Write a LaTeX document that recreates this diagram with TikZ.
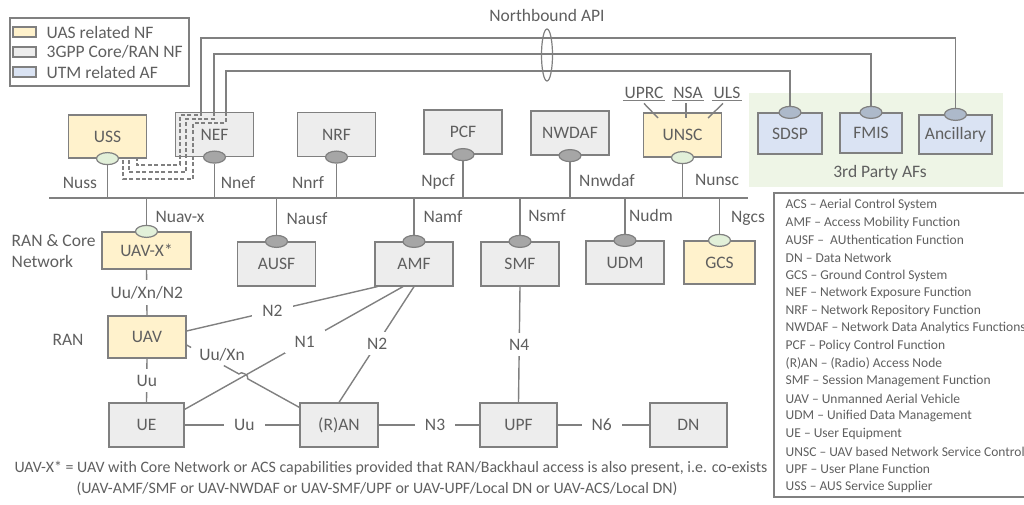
\documentclass[tikz,border=0pt]{standalone}
\usepackage{fontspec}
\setmainfont{Carlito}
\usetikzlibrary{calc,intersections,shapes.geometric}

\definecolor{txtgray}{HTML}{5F5F5F}
\definecolor{linegray}{HTML}{808080}
\definecolor{uasfill}{HTML}{FFF2CC}
\definecolor{corefill}{HTML}{EDEDED}
\definecolor{utmfill}{HTML}{DAE3F3}
\definecolor{afback}{HTML}{EEF5E6}
\definecolor{greenif}{HTML}{E2F0D9}
\definecolor{grayif}{HTML}{A6A6A6}
\definecolor{blueif}{HTML}{ADB9CA}

\newcommand{\lblfont}{\fontsize{8.75}{10.5}\selectfont}
\newcommand{\keyfont}{\fontsize{6.75}{8.8}\selectfont}
\newcommand{\notefont}{\fontsize{7.95}{9.5}\selectfont}

\begin{document}
\begin{tikzpicture}[x=0.5pt,y=-0.5pt,line width=0.7pt,color=linegray,text=txtgray,font=\lblfont,
    nf/.style={draw=linegray,line width=0.6pt,minimum width=39pt,minimum height=22pt,inner sep=0pt},
    uas/.style={nf,fill=uasfill},
    core/.style={nf,fill=corefill},
    utm/.style={nf,fill=utmfill},
    ifc/.style={ellipse,draw=linegray,line width=0.6pt,minimum width=11pt,minimum height=6pt,inner sep=0pt},
    gap/.style={fill=white,inner xsep=5pt,inner ysep=3pt},
    nefdash/.style={dashed,dash pattern=on 2pt off 1.2pt,line width=0.6pt},
    keyline/.style={anchor=west,inner sep=0pt,font=\keyfont}]

    \useasboundingbox (0,0) rectangle (1024,504);

    % Colour legend
    \draw[line width=0.6pt] (10,18) rectangle (189,86);
    \node[draw,fill=uasfill,minimum width=11.5pt,minimum height=5pt,inner sep=0pt] (keyUas) at (24.5,32) {};
    \node[draw,fill=corefill,minimum width=11.5pt,minimum height=5pt,inner sep=0pt] (keyCore) at (24.5,52) {};
    \node[draw,fill=utmfill,minimum width=11.5pt,minimum height=5pt,inner sep=0pt] (keyUtm) at (24.5,72) {};
    \node[anchor=west,inner sep=0pt] (keyUasT) at (46,32) {UAS related NF};
    \node[anchor=west,inner sep=0pt] (keyCoreT) at (46,52) {3GPP Core/RAN NF};
    \node[anchor=west,inner sep=0pt] (keyUtmT) at (46,72) {UTM related AF};

    % 3rd party AFs
    \fill[afback] (749,93) rectangle (1003,187);
    \node[utm,minimum width=32pt,minimum height=20.5pt] (SDSP) at (790,133.5) {SDSP};
    \node[utm,minimum width=31pt,minimum height=20pt] (FMIS) at (871,133) {FMIS};
    \node[utm,minimum width=36.5pt,minimum height=19.5pt] (Anc) at (955.5,134.5) {Ancillary};
    \node[ifc,fill=blueif] (sdspIf) at (SDSP.north) {};
    \node[ifc,fill=blueif] (fmisIf) at (FMIS.north) {};
    \node[ifc,fill=blueif] (ancIf) at (Anc.north) {};
    \node (afLbl) at (880,173) {3rd Party AFs};

    % Service based NFs (top row)
    \node[uas,minimum height=21.5pt] (USS) at (107.5,136.5) {USS};
    \node[core] (NEF) at (214.5,134.5) {NEF};
    \node[core] (NRF) at (336.5,134.5) {NRF};
    \node[core] (PCF) at (463,132) {PCF};
    \node[core] (NWDAF) at (570,133) {NWDAF};
    \node[uas] (UNSC) at (682.5,135) {UNSC};

    \node[ifc,fill=greenif] (ussIf) at (USS.south) {};
    \node[ifc,fill=grayif] (nefIf) at (NEF.south) {};
    \node[ifc,fill=grayif] (nrfIf) at (NRF.south) {};
    \node[ifc,fill=grayif] (pcfIf) at (PCF.south) {};
    \node[ifc,fill=grayif] (nwdafIf) at (NWDAF.south) {};
    \node[ifc,fill=greenif] (unscIf) at (UNSC.south) {};

    % UNSC parts
    \node[inner sep=0.5pt] (uprc) at (644,93) {UPRC};
    \node[inner sep=0.5pt] (nsa) at (688,93) {NSA};
    \node[inner sep=0.5pt] (uls) at (727,93) {ULS};
    \draw (uprc.south west) -- (uprc.south east);
    \draw (nsa.south west) -- (nsa.south east);
    \draw (uls.south west) -- (uls.south east);
    \draw ($(uprc.south)+(0,3)$) -- (658,118);
    \draw ($(nsa.south)+(-2,3)$) -- (686,118);
    \draw ($(uls.south)+(-4,3)$) -- (708,118);

    % Northbound API
    \coordinate (apiA) at (201,0 |- NEF.north);
    \coordinate (apiB) at (214,0 |- NEF.north);
    \coordinate (apiC) at (226,0 |- NEF.north);
    \draw (apiA) |- (ancIf.north |- 0,38) -- (ancIf.north);
    \draw (apiB) |- (fmisIf.north |- 0,54) -- (fmisIf.north);
    \draw (apiC) |- (sdspIf.north |- 0,71) -- (sdspIf.north);
    \draw[line width=0.6pt] (547,55) ellipse [x radius=5.5,y radius=26];
    \node (nbLbl) at (547,15) {Northbound API};

    % NEF to USS (dashed)
    \draw[nefdash] (apiA) |- (180,115) |- (137,165) -- (137,0 |- USS.south);
    \draw[nefdash] (apiB) |- (186,119) |- (129,172) -- (129,0 |- USS.south);
    \draw[nefdash] (apiC) |- (193,123) |- (123,179) -- (123,0 |- USS.south);

    % Service bus
    \coordinate (busW) at (49,198);
    \coordinate (busE) at (748,198);
    \draw (busW) -- (busE);
    \draw (ussIf) -- (ussIf |- busW);
    \draw (nefIf) -- (nefIf |- busW);
    \draw (nrfIf) -- (nrfIf |- busW);
    \draw (pcfIf) -- (pcfIf |- busW);
    \draw (nwdafIf) -- (nwdafIf |- busW);
    \draw (unscIf) -- (unscIf |- busW);

    \node (lNuss) at (80,183) {Nuss};
    \node (lNnef) at (238,183) {Nnef};
    \node (lNnrf) at (308,182) {Nnrf};
    \node (lNpcf) at (438,182) {Npcf};
    \node (lNnwdaf) at (607,180) {Nnwdaf};
    \node (lNunsc) at (717,180) {Nunsc};

    % Service based NFs (lower row)
    \node[uas,minimum width=44.5pt,minimum height=18.5pt] (UAVX) at (146.5,250.5) {UAV-X*};
    \node[core] (AUSF) at (276.5,264) {AUSF};
    \node[core] (AMF) at (414,264) {AMF};
    \node[core] (SMF) at (520,264) {SMF};
    \node[core,minimum height=21.5pt] (UDM) at (625,262.5) {UDM};
    \node[uas,minimum width=35.5pt,minimum height=21.5pt] (GCS) at (719.5,262.5) {GCS};

    \node[ifc,fill=greenif] (uavxIf) at (UAVX.north) {};
    \node[ifc,fill=grayif] (ausfIf) at (AUSF.north) {};
    \node[ifc,fill=grayif] (amfIf) at (AMF.north) {};
    \node[ifc,fill=grayif] (smfIf) at (SMF.north) {};
    \node[ifc,fill=grayif] (udmIf) at (UDM.north) {};
    \node[ifc,fill=greenif] (gcsIf) at (GCS.north) {};

    \draw (uavxIf) -- (uavxIf |- busW);
    \draw (ausfIf) -- (ausfIf |- busW);
    \draw (amfIf) -- (amfIf |- busW);
    \draw (smfIf) -- (smfIf |- busW);
    \draw (udmIf) -- (udmIf |- busW);
    \draw (gcsIf) -- (gcsIf |- busW);

    \node (lNuavx) at (180,217) {Nuav-x};
    \node (lNausf) at (307,219) {Nausf};
    \node (lNamf) at (443,217) {Namf};
    \node (lNsmf) at (547,216) {Nsmf};
    \node (lNudm) at (651,215) {Nudm};
    \node (lNgcs) at (748,218) {Ngcs};

    \node[anchor=west,align=left,inner sep=0pt] (lCore) at (11,251) {RAN \& Core\\Network};

    % RAN and user plane
    \node[uas,minimum height=21pt] (UAV) at (147,337) {UAV};
    \node[core,minimum width=37.5pt] (UE) at (146.5,425) {UE};
    \node[core] (RAN) at (339,425) {(R)AN};
    \node[core,minimum width=38.5pt] (UPF) at (518.5,425) {UPF};
    \node[core,minimum width=38.5pt] (DN) at (688.5,425) {DN};
    \node (lRAN) at (68,340) {RAN};

    \draw (UAVX.south) -- node[gap] (lUuXnNtwo) {Uu/Xn/N2} (UAV.north);
    \draw (UAV.south) -- node[gap] (lUuA) {Uu} (UE.north);
    \draw (SMF.south) -- node[gap] (lNfour) {N4} (UPF.north);
    \draw (UE.east) -- node[gap,pos=0.52] (lUuB) {Uu} (RAN.west);
    \draw (RAN.east) -- node[gap,pos=0.56] (lNthree) {N3} (UPF.west);
    \draw (UPF.east) -- node[gap,pos=0.48] (lNsix) {N6} (DN.west);

    % N1 / N2 towards AMF
    \coordinate (ntwoA) at ([yshift=3pt]UAV.east);
    \coordinate (ntwoB) at ([xshift=1.5pt]AMF.south west);
    \draw (ntwoA) -- node[gap,pos=0.45] (lNtwoA) {N2} (ntwoB);
    \coordinate (noneA) at ([xshift=-5.5pt]AMF.south);
    \coordinate (noneB) at ([yshift=-3.5pt]UE.north east);
    \draw[name path=nOne] (noneA) -- node[gap,pos=0.45] (lNone) {N1} (noneB);
    \draw (AMF.south) -- node[gap,pos=0.49] (lNtwoB) {N2} (RAN.north);

    % Uu/Xn with hop over N1
    \coordinate (uxA) at ([yshift=-4pt]UAV.east);
    \coordinate (uxB) at ([yshift=-2.5pt]RAN.north west);
    \path[name path=uuXn] (uxA) -- (uxB);
    \path[name intersections={of=nOne and uuXn,by=hop}];
    \draw (uxA) -- ($(uxA)!0.04!(uxB)$);
    \draw ($(uxA)!0.33!(uxB)$) -- ($(hop)!2.5pt!(uxA)$) to[bend left=90] ($(hop)!2.5pt!(uxB)$) -- (uxB);
    \node (lUuXn) at (222,355) {Uu/Xn};

    % Footnote
    \node[font=\notefont] (note1) at (391,468) {UAV-X* = UAV with Core Network or ACS capabilities provided that RAN/Backhaul access is also present, i.e. co-exists};
    \node[font=\notefont] (note2) at (377,489) {(UAV-AMF/SMF or UAV-NWDAF or UAV-SMF/UPF or UAV-UPF/Local DN or UAV-ACS/Local DN)};

    % Abbreviations
    \draw[line width=0.6pt] (1040,193) -- (774,193) -- (774,497) -- (1040,497);
    \node[keyline] (kACS) at (785,205) {ACS – Aerial Control System};
    \node[keyline] (kAMF) at (785,222.6) {AMF – Access Mobility Function};
    \node[keyline] (kAUSF) at (785,240.2) {AUSF –\ \ AUthentication Function};
    \node[keyline] (kDN) at (785,257.8) {DN – Data Network};
    \node[keyline] (kGCS) at (785,275.4) {GCS – Ground Control System};
    \node[keyline] (kNEF) at (785,293) {NEF – Network Exposure Function};
    \node[keyline] (kNRF) at (785,310.6) {NRF – Network Repository Function};
    \node[keyline] (kNWDAF) at (785,328.2) {NWDAF – Network Data Analytics Functions};
    \node[keyline] (kPCF) at (785,345.8) {PCF – Policy Control Function};
    \node[keyline] (kRAN) at (785,363.4) {(R)AN – (Radio) Access Node};
    \node[keyline] (kSMF) at (785,381) {SMF – Session Management Function};
    \node[keyline] (kUAV) at (785,398.6) {UAV – Unmanned Aerial Vehicle};
    \node[keyline] (kUDM) at (785,416.2) {UDM – Unified Data Management};
    \node[keyline] (kUE) at (785,433.8) {UE – User Equipment};
    \node[keyline] (kUNSC) at (785,451.4) {UNSC – UAV based Network Service Control};
    \node[keyline] (kUPF) at (785,469) {UPF – User Plane Function};
    \node[keyline] (kUSS) at (785,486.6) {USS – AUS Service Supplier};

\end{tikzpicture}
\end{document}
